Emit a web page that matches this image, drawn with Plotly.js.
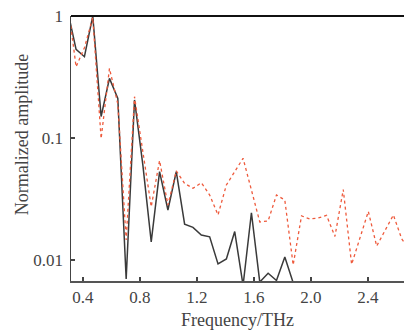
<!DOCTYPE html>
<html>
<head>
<meta charset="utf-8">
<script src="https://cdn.plot.ly/plotly-3.0.1.min.js"></script>
<style>html,body{margin:0;padding:0;background:#fff;}#chart{width:404px;height:332px;}</style>
</head>
<body>
<div id="chart"></div>
<script>
// frequency step (THz) and point indices
const step = 0.0586;
const blackIdx = [5,6,7,8,9,10,11,12,13,14,15,16,17,18,19,20,21,22,23,24,25,26,27,28,29,30,31,32,33];
const blackVals = [1.1,0.533,0.464,1.0,0.150,0.308,0.211,0.007,0.205,0.060,0.0141,0.053,0.0257,0.053,0.0197,0.0185,0.0160,0.0155,0.0093,0.0102,0.0171,0.0062,0.0244,0.0066,0.0078,0.0068,0.0106,0.0066,0.004];
const redIdx = [5,6,7,8,9,10,11,12,13,14,15,16,17,18,19,20,21,22,23,24,25,26,27,28,29,30,31,32,33,34,35,36,37,38,39,40,41,42,43,44,45,46];
const redVals = [1.3,0.384,0.55,0.97,0.099,0.372,0.19,0.0146,0.218,0.08,0.0273,0.0654,0.0282,0.0537,0.0425,0.0387,0.0430,0.0341,0.0234,0.0412,0.0529,0.0682,0.0375,0.0205,0.0209,0.0341,0.0310,0.0091,0.0230,0.0217,0.0221,0.0232,0.0156,0.0378,0.0092,0.0151,0.0250,0.0130,0.0176,0.0234,0.0149,0.012];
const xTicks = [0.4,0.8,1.2,1.6,2.0,2.4];
const xTickText = ['0.4','0.8','1.2','1.6','2.0','2.4'];
const yTicks = [1,0.1,0.01];
const yTickText = ['1','0.1','0.01'];

const blackX = blackIdx.map(n => n*step);
const redX = redIdx.map(n => n*step);

const serif = 'Liberation Serif, Times New Roman, serif';
const traces = [
  {x: blackX, y: blackVals, type:'scatter', mode:'lines', line:{color:'#3a3a3a', width:1.5}, showlegend:false},
  {x: redX, y: redVals, type:'scatter', mode:'lines', line:{color:'#ee5a3c', width:1.3, dash:'dot'}, showlegend:false}
];
const tickFont = {family:serif, size:17, color:'#444'};
const layout = {
  width:404, height:332,
  margin:{l:71, r:0, t:16, b:51, pad:0},
  paper_bgcolor:'#fff', plot_bgcolor:'#fff',
  xaxis:{
    range:[0.316,2.653], tickvals:xTicks, ticktext:xTickText,
    ticks:'inside', ticklen:4, tickwidth:1.5, tickcolor:'#444',
    showline:true, linecolor:'#555', linewidth:1.5, mirror:false,
    showgrid:false, zeroline:false, tickfont:tickFont,
    title:{text:'Frequency/THz', font:{family:serif, size:18, color:'#444'}, standoff:7}
  },
  yaxis:{
    type:'log', range:[-2.172,0], tickvals:yTicks, ticktext:yTickText,
    ticks:'inside', ticklen:4, tickwidth:1.5, tickcolor:'#444',
    showline:true, linecolor:'#444', linewidth:1.5,
    showgrid:false, zeroline:false, tickfont:tickFont, ticklabelstandoff:3
  },
  annotations:[{
    text:'Normalized amplitude', textangle:-90, showarrow:false,
    xref:'paper', yref:'paper', x:-0.147, y:0.55, xanchor:'center', yanchor:'middle',
    font:{family:serif, size:18, color:'#444'}
  }],
  shapes:[{type:'line', xref:'paper', yref:'paper', x0:0, x1:1, y0:1, y1:1, line:{color:'#111', width:2}}]
};
Plotly.newPlot('chart', traces, layout, {displayModeBar:false, staticPlot:true});
</script>
</body>
</html>
